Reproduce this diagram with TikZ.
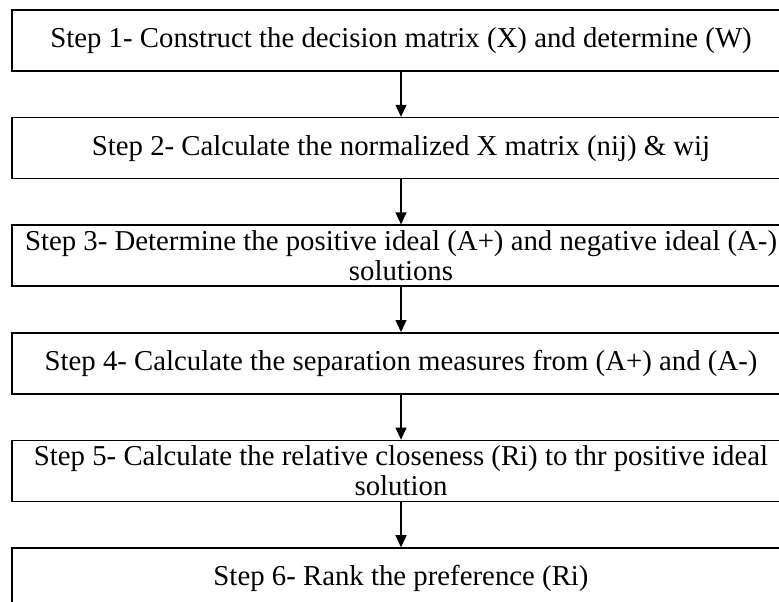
\documentclass[tikz,border=0pt]{standalone}
\usepackage{fontspec}
\setmainfont{Liberation Serif}
\usetikzlibrary{positioning,arrows.meta}

\tikzset{
  stepbox/.style={draw, line width=0.8pt, rectangle, minimum width=389pt,
    minimum height=30.5pt, inner ysep=0pt, align=center,
    font=\fontsize{14.4}{15.2}\selectfont},
  flow/.style={-{Triangle[length=6pt,width=5.5pt]}, line width=0.6pt}
}

\begin{document}
\begin{tikzpicture}[node distance=22.5pt]
      \clip (0,0) rectangle (389.5pt,-300.5pt);
      \node[stepbox] (s1) at (200.5pt,-20.25pt) {Step 1- Construct the decision matrix (X) and determine (W)};
      \node[stepbox, below=of s1] (s2) {Step 2- Calculate the normalized X matrix (nij) \& wij};
      \node[stepbox, below=of s2] (s3) {Step 3- Determine the positive ideal (A+) and negative ideal (A-)\\solutions};
      \node[stepbox, below=of s3] (s4) {Step 4- Calculate the separation measures from (A+) and (A-)};
      \node[stepbox, below=of s4] (s5) {Step 5- Calculate the relative closeness (Ri) to thr positive ideal\\solution};
      \node[stepbox, below=of s5] (s6) {Step 6- Rank the preference (Ri)};

      \draw[flow] (s1) -- (s2);
      \draw[flow] (s2) -- (s3);
      \draw[flow] (s3) -- (s4);
      \draw[flow] (s4) -- (s5);
      \draw[flow] (s5) -- (s6);
\end{tikzpicture}
\end{document}
